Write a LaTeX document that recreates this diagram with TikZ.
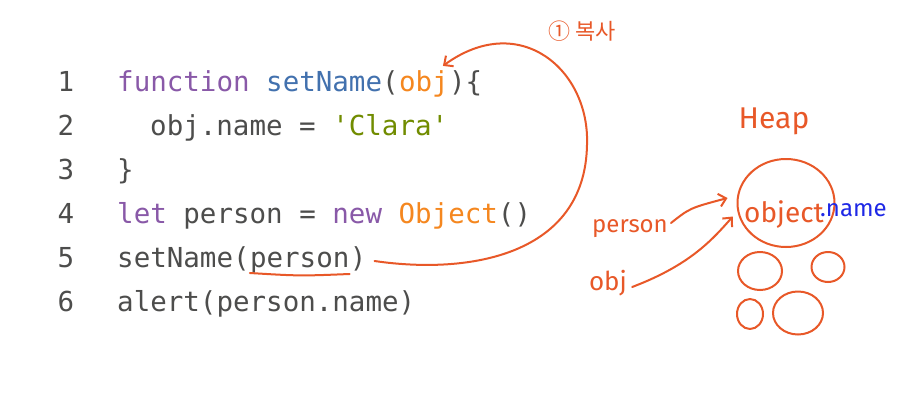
\documentclass[tikz,border=0pt]{standalone}
\usepackage{fontspec}
\usetikzlibrary{arrows.meta,shapes.geometric}
\newfontfamily\codefont{DejaVu Sans Mono}
\newfontfamily\handfont{Fira Sans}
\newfontfamily\krfont{Noto Sans CJK KR}
\definecolor{fg}{RGB}{77,77,76}
\definecolor{kw}{RGB}{137,89,168}
\definecolor{fn}{RGB}{66,113,174}
\definecolor{cls}{RGB}{245,135,31}
\definecolor{str}{RGB}{113,140,0}
\definecolor{pen}{RGB}{232,88,40}
\definecolor{ink}{RGB}{30,40,230}

\begin{document}
\begin{tikzpicture}[x=1pt,y=-1pt,
    code/.style={font=\codefont\fontsize{27.5pt}{33pt}\selectfont, inner sep=0pt, anchor=base west, text=fg},
    lineno/.style={font=\codefont\fontsize{27.5pt}{33pt}\selectfont, inner sep=0pt, anchor=base, text=fg},
    hand/.style={draw=pen, line width=2pt, line cap=round, line join=round},
    handtext/.style={font=\handfont\fontsize{#1}{#1}\selectfont, text=pen, inner sep=1pt},
    blob/.style={hand, ellipse, inner sep=0pt},
    >={Straight Barb[length=7pt,width=13pt]}]
\fill[white] (0,0) rectangle (900,402);
\useasboundingbox (0,0) rectangle (900,402);

% line numbers
\foreach \n in {1,...,6}
  \node[lineno] (n\n) at (66,{47+44*\n}) {\n};

% code
\node[code] (fnhead) at (117,91) {\textcolor{kw}{function} \textcolor{fn}{setName}(};
\node[code, text=cls] (objarg) at (fnhead.base east) {obj};
\node[code] (fntail) at (objarg.base east) {)\{};
\node[code] (body) at (150,135) {obj.name = \textcolor{str}{'Clara'}};
\node[code] (close) at (117,179) {\}};
\node[code] (decl) at (117,223) {\textcolor{kw}{let} person = \textcolor{kw}{new} \textcolor{cls}{Object}()};
\node[code] (call) at (117,267) {setName(};
\node[code] (arg) at (call.base east) {person};
\node[code] (callend) at (arg.base east) {)};
\node[code] (alert) at (117,311) {alert(person.name)};

% notes
\node[font=\krfont\fontsize{22pt}{22pt}\selectfont, text=pen] (copy) at (582,31) {① 복사};
\node[handtext=30pt] (heap) at (774,121) {Heap};
\node[handtext=24pt] (person) at (630,229) {person};
\node[handtext=26pt] (obj) at (608,283) {obj};

% heap
\node[blob, minimum width=97, minimum height=88] (objc) at (786,203) {};
\node[handtext=28pt, anchor=base] (objt) at (784,222) {object};
\node[font=\handfont\fontsize{24pt}{24pt}\selectfont, text=ink, inner sep=0pt, anchor=base west] (prop) at (820,216) {.name};
\node[blob, minimum width=44, minimum height=38] (h1) at (760,271) {};
\node[blob, minimum width=33, minimum height=30] (h2) at (828,267) {};
\node[blob, minimum width=26, minimum height=30] (h3) at (750,314) {};
\node[blob, minimum width=50, minimum height=43] (h4) at (798,313) {};

% connectors
\draw[hand] ([yshift=-6pt]arg.base west) .. controls ([yshift=-9pt]arg.base) .. ([yshift=-7pt]arg.base east);
\draw[hand,->] ([xshift=8pt,yshift=6pt]callend.base east) .. controls (470,275) and (585,255) .. (587,145)
  .. controls (590,70) and (520,10) .. ([xshift=-6pt,yshift=4pt]objarg.north east);
\draw[hand,->] ([xshift=2pt,yshift=6pt]person.east) .. controls (690,208) .. ([xshift=-9pt,yshift=5pt]objc.west);
\draw[hand,->] ([xshift=4pt,yshift=-4pt]obj.east) .. controls (690,265) and (712,240) .. ([xshift=-6pt]objc.196);
\end{tikzpicture}
\end{document}
